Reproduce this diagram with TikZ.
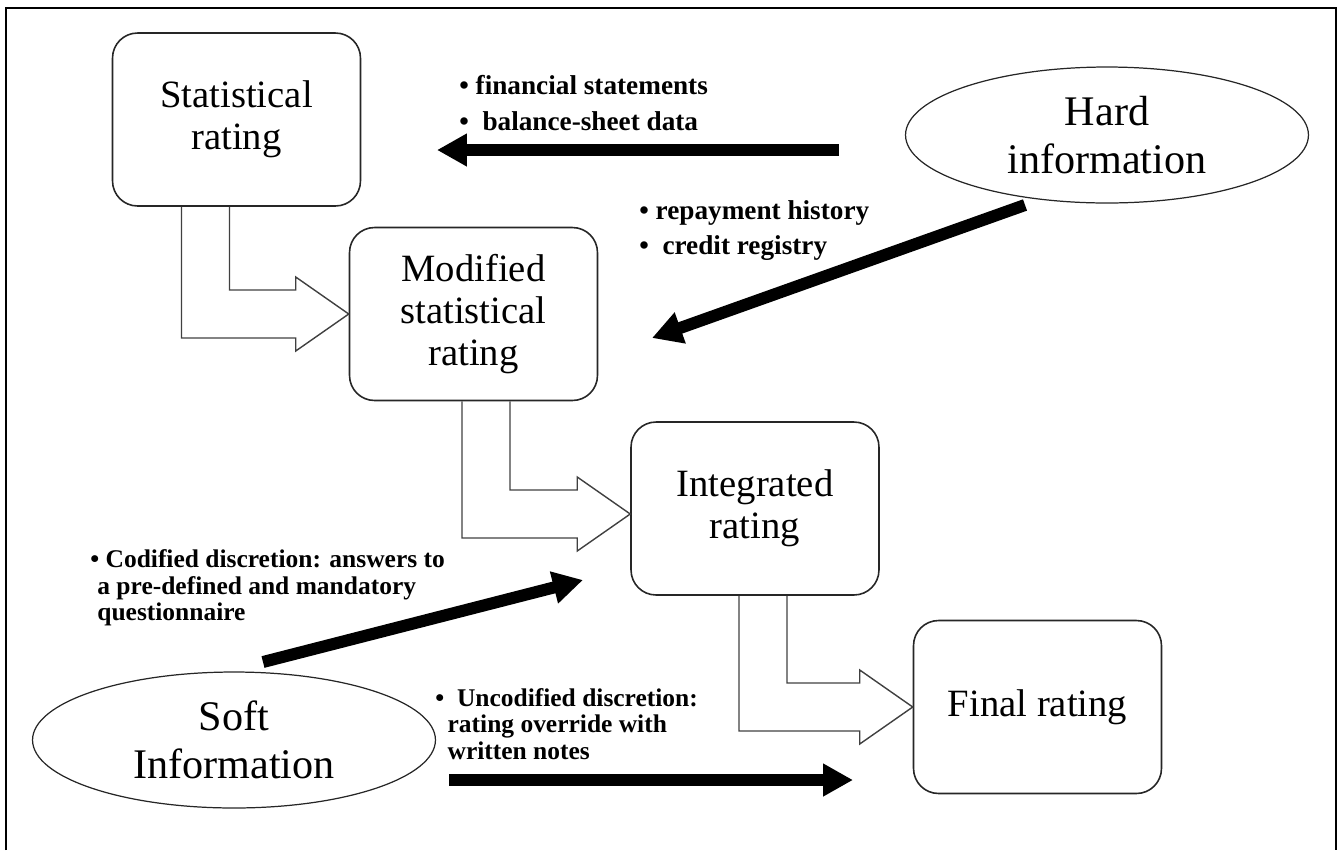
\documentclass[tikz,border=0pt]{standalone}
\usepackage{fontspec}
\setmainfont{Liberation Serif}
\usetikzlibrary{shapes.geometric,arrows.meta,calc}

\tikzset{
  rating/.style={draw=black!85, line width=0.9pt, rounded corners=0.5cm,
    minimum width=4.96cm, minimum height=3.46cm, align=center,
    font=\fontsize{22}{24}\selectfont},
  info/.style={draw=black!85, line width=0.7pt, ellipse, minimum width=8.06cm,
    minimum height=2.72cm, align=center, font=\fontsize{24}{27.5}\selectfont},
  hollow/.style={draw=black!75, line width=0.8pt},
  fat/.style={line width=0.24cm, -{Triangle[length=0.6cm,width=0.62cm]}},
  note/.style={anchor=west, align=left, inner sep=0pt,
    font=\bfseries\fontsize{14.5}{15.2}\selectfont},
}

\newcommand{\flowarrow}[4]{%
  \draw[hollow] let \p1=(#1.south), \p2=(#3.west),
    \n1={\x1+(#2)}, \n2={\y2+(#4)} in
    (\n1-0.48cm,\y1) -- (\n1-0.48cm,\n2-0.48cm) -- (\x2-1.06cm,\n2-0.48cm)
    -- (\x2-1.06cm,\n2-0.74cm) -- (\x2,\n2) -- (\x2-1.06cm,\n2+0.74cm)
    -- (\x2-1.06cm,\n2+0.48cm) -- (\n1+0.48cm,\n2+0.48cm) -- (\n1+0.48cm,\y1);}

\begin{document}
\begin{tikzpicture}[x=0.02cm, y=-0.02cm]
  \useasboundingbox (0,0) rectangle (1340,850);
  \draw [line width=1.2pt] (6,850) -- (6,8) -- (1336,8) -- (1336,850);

  \node [rating] (stat) at (236.5,119.5) {Statistical\\rating};
  \node [rating] (mod) at (473.5,314) {Modified\\statistical\\rating};
  \node [rating] (integ) at (755,508.5) {Integrated\\rating};
  \node [rating] (final) at (1037.5,707) {Final rating};
  \node [info] (hard) at (1107,135) {\raisebox{-4pt}{Hard}\\\raisebox{-4pt}{information}};
  \node [info] (soft) at (234,740) {Soft\\Information};

  \flowarrow{stat}{-0.62cm}{mod}{0cm}
  \flowarrow{mod}{0.25cm}{integ}{-0.11cm}
  \flowarrow{integ}{0.16cm}{final}{0cm}

  \coordinate (hardA) at (839,150);
  \coordinate (statA) at (437,150);
  \coordinate (hardB) at (1025,205);
  \coordinate (modB) at (652,338);
  \coordinate (softC) at (263,662);
  \coordinate (integC) at (583,580);
  \coordinate (softD) at (449,780);
  \coordinate (finalD) at (853,780);
  \draw [fat] (hardA) -- (statA);
  \draw [fat] (hardB) -- (modB);
  \draw [fat] (softC) -- (integC);
  \draw [fat] (softD) -- (finalD);

  \node [note, font=\bfseries\fontsize{15.5}{20.5}\selectfont] (fin) at (459,103)
    {• financial statements\\•\ \ balance-sheet data};
  \node [note, font=\bfseries\fontsize{15.5}{19.9}\selectfont] (rep) at (639,231)
    {• repayment history\\•\ \ credit registry};
  \node [note] (cod) at (90,588)
    {• Codified discretion: answers to\\\hspace{4pt}a pre-defined and mandatory\\\hspace{4pt}questionnaire};
  \node [note] (uncod) at (435,724)
    {•\ \ Uncodified discretion:\\\hspace{7pt}rating override with\\\hspace{7pt}written notes};
\end{tikzpicture}
\end{document}
